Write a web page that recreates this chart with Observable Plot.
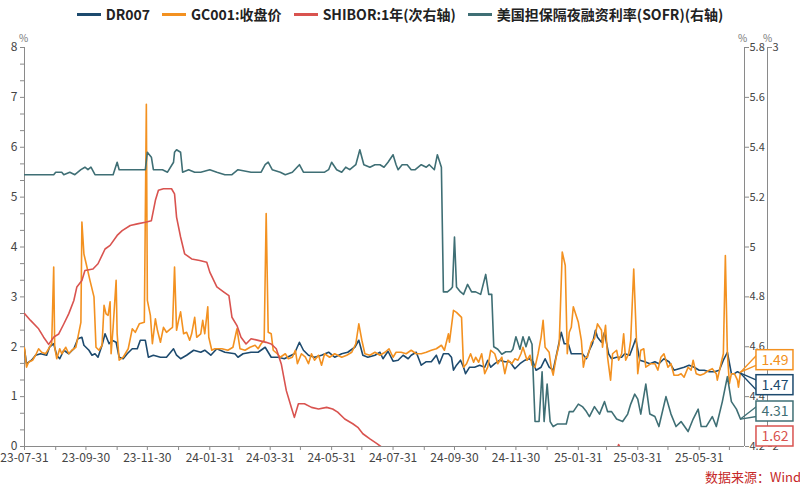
<!DOCTYPE html>
<html><head><meta charset="utf-8">
<script src="https://cdn.jsdelivr.net/npm/d3@7"></script>
<script src="https://cdn.jsdelivr.net/npm/@observablehq/plot@0.6"></script>
<style>
body{margin:0;background:#fff;}
#wrap{position:relative;width:800px;height:485px;font-family:"Noto Sans CJK SC","Open Sans",sans-serif;overflow:hidden;}
#chart{position:absolute;left:0;top:0;}
#legend{position:absolute;top:4px;left:0;width:800px;display:flex;justify-content:center;align-items:center;font-weight:bold;font-size:14px;color:#222;line-height:20px;}
.item{display:flex;align-items:center;margin:0 6px;white-space:nowrap;}
.sw{display:inline-block;width:24px;height:3px;margin-right:5px;}
#src{position:absolute;left:705px;top:469px;font-size:13px;color:#c62828;white-space:nowrap;line-height:16px;}
</style></head>
<body><div id="wrap"><div id="chart"></div><div id="legend"></div><div id="src">数据来源：Wind</div></div>
<script>
const seriesNames = ["DR007", "GC001:收盘价", "SHIBOR:1年(次右轴)", "美国担保隔夜融资利率(SOFR)(右轴)"];
const seriesColors = ["#1d4a6e", "#f39120", "#d9534f", "#3f6f75"];

const dr007 = [["2023-07-31",1.95],["2023-08-02",1.66],["2023-08-07",1.73],["2023-08-11",1.83],["2023-08-16",1.86],["2023-08-22",1.83],["2023-08-25",2.00],["2023-08-29",2.06],["2023-09-01",1.83],["2023-09-04",1.76],["2023-09-08",1.93],["2023-09-13",1.86],["2023-09-18",1.96],["2023-09-22",2.16],["2023-09-26",2.19],["2023-09-28",2.03],["2023-10-03",1.93],["2023-10-06",1.83],["2023-10-09",1.86],["2023-10-12",1.79],["2023-10-16",2.03],["2023-10-19",2.26],["2023-10-23",2.06],["2023-10-26",2.13],["2023-10-30",2.09],["2023-11-02",1.79],["2023-11-06",1.76],["2023-11-10",1.86],["2023-11-15",1.96],["2023-11-20",1.96],["2023-11-23",2.13],["2023-11-28",2.13],["2023-12-01",1.79],["2023-12-06",1.83],["2023-12-13",1.79],["2023-12-19",1.79],["2023-12-26",1.96],["2023-12-29",1.83],["2024-01-02",1.76],["2024-01-08",1.83],["2024-01-15",1.93],["2024-01-22",1.89],["2024-01-26",1.93],["2024-02-01",1.83],["2024-02-07",1.96],["2024-02-15",1.89],["2024-02-25",1.86],["2024-02-28",1.79],["2024-03-04",1.86],["2024-03-12",1.89],["2024-03-19",1.89],["2024-03-26",1.99],["2024-03-29",1.89],["2024-04-01",1.79],["2024-04-08",1.79],["2024-04-14",1.76],["2024-04-21",1.83],["2024-04-24",1.86],["2024-04-29",2.09],["2024-05-03",1.93],["2024-05-08",1.83],["2024-05-14",1.79],["2024-05-21",1.83],["2024-05-28",1.89],["2024-06-03",1.79],["2024-06-10",1.86],["2024-06-16",1.89],["2024-06-23",1.99],["2024-06-27",2.13],["2024-07-01",1.83],["2024-07-06",1.79],["2024-07-13",1.83],["2024-07-18",1.89],["2024-07-21",1.76],["2024-07-26",1.91],["2024-07-31",1.71],["2024-08-05",1.73],["2024-08-10",1.83],["2024-08-15",1.76],["2024-08-18",1.83],["2024-08-23",1.89],["2024-08-28",1.63],["2024-09-02",1.70],["2024-09-07",1.70],["2024-09-12",1.83],["2024-09-15",1.66],["2024-09-19",1.86],["2024-09-24",1.86],["2024-09-27",1.79],["2024-09-29",1.53],["2024-10-02",1.63],["2024-10-06",1.73],["2024-10-09",1.59],["2024-10-11",1.46],["2024-10-15",1.59],["2024-10-20",1.59],["2024-10-25",1.63],["2024-10-30",1.59],["2024-11-02",1.73],["2024-11-05",1.59],["2024-11-09",1.66],["2024-11-14",1.73],["2024-11-19",1.70],["2024-11-24",1.70],["2024-11-29",1.56],["2024-12-04",1.66],["2024-12-09",1.73],["2024-12-13",1.76],["2024-12-17",1.70],["2024-12-20",1.53],["2024-12-25",1.59],["2024-12-29",1.76],["2025-01-02",1.59],["2025-01-06",1.53],["2025-01-11",2.00],["2025-01-14",2.29],["2025-01-17",2.06],["2025-01-21",2.06],["2025-01-24",1.86],["2025-01-29",1.86],["2025-02-04",1.86],["2025-02-08",1.76],["2025-02-11",1.93],["2025-02-14",2.06],["2025-02-17",2.33],["2025-02-19",2.19],["2025-02-23",2.09],["2025-02-26",2.29],["2025-03-02",1.86],["2025-03-05",1.76],["2025-03-10",1.79],["2025-03-15",1.79],["2025-03-18",1.86],["2025-03-23",1.83],["2025-03-26",1.99],["2025-03-29",2.16],["2025-04-02",1.73],["2025-04-07",1.70],["2025-04-12",1.66],["2025-04-17",1.70],["2025-04-21",1.66],["2025-04-26",1.76],["2025-05-01",1.70],["2025-05-06",1.53],["2025-05-11",1.56],["2025-05-16",1.59],["2025-05-21",1.63],["2025-05-26",1.59],["2025-05-31",1.53],["2025-06-05",1.53],["2025-06-10",1.50],["2025-06-15",1.50],["2025-06-20",1.53],["2025-06-24",1.73],["2025-06-28",1.89],["2025-07-02",1.46],["2025-07-05",1.46],["2025-07-08",1.50],["2025-07-11",1.47]];

const gc001 = [["2023-07-31",1.98],["2023-08-02",1.59],["2023-08-04",1.69],["2023-08-08",1.73],["2023-08-11",1.83],["2023-08-14",1.96],["2023-08-17",1.89],["2023-08-21",1.86],["2023-08-24",1.96],["2023-08-27",2.06],["2023-08-29",3.60],["2023-08-30",1.99],["2023-09-01",1.76],["2023-09-04",1.96],["2023-09-06",1.86],["2023-09-10",1.99],["2023-09-13",1.86],["2023-09-16",1.93],["2023-09-20",1.99],["2023-09-23",2.29],["2023-09-25",2.49],["2023-09-26",4.50],["2023-09-28",3.86],["2023-10-01",3.60],["2023-10-04",3.33],["2023-10-08",3.00],["2023-10-10",1.99],["2023-10-13",1.93],["2023-10-16",2.03],["2023-10-18",2.83],["2023-10-20",2.66],["2023-10-22",2.63],["2023-10-24",2.90],["2023-10-25",1.86],["2023-10-27",2.39],["2023-10-30",3.33],["2023-10-31",2.26],["2023-11-02",1.73],["2023-11-06",1.79],["2023-11-11",1.96],["2023-11-15",2.36],["2023-11-18",2.29],["2023-11-22",2.46],["2023-11-27",2.49],["2023-11-29",6.86],["2023-11-30",2.93],["2023-12-03",2.63],["2023-12-05",2.06],["2023-12-08",2.56],["2023-12-10",2.33],["2023-12-13",2.09],["2023-12-16",2.39],["2023-12-19",2.29],["2023-12-23",2.36],["2023-12-25",2.39],["2023-12-27",3.60],["2023-12-29",2.33],["2023-12-31",2.53],["2024-01-02",2.70],["2024-01-05",2.26],["2024-01-08",2.29],["2024-01-11",2.13],["2024-01-13",2.26],["2024-01-16",2.59],["2024-01-18",2.19],["2024-01-22",2.26],["2024-01-24",2.53],["2024-01-26",2.26],["2024-01-29",2.80],["2024-01-30",2.19],["2024-02-02",1.93],["2024-02-05",1.96],["2024-02-12",1.96],["2024-02-18",1.93],["2024-02-23",1.99],["2024-02-27",2.36],["2024-03-01",1.96],["2024-03-06",1.93],["2024-03-11",1.99],["2024-03-16",2.03],["2024-03-19",1.96],["2024-03-22",2.06],["2024-03-25",2.13],["2024-03-27",4.67],["2024-03-29",2.29],["2024-04-01",2.26],["2024-04-03",1.93],["2024-04-07",1.86],["2024-04-10",1.79],["2024-04-15",1.86],["2024-04-18",1.76],["2024-04-22",1.79],["2024-04-25",1.93],["2024-04-27",1.66],["2024-05-01",1.86],["2024-05-05",1.79],["2024-05-08",1.66],["2024-05-11",1.86],["2024-05-14",1.73],["2024-05-18",1.83],["2024-05-21",1.63],["2024-05-24",1.86],["2024-05-29",1.79],["2024-06-03",1.86],["2024-06-10",1.79],["2024-06-15",1.83],["2024-06-20",1.89],["2024-06-24",2.06],["2024-06-27",2.46],["2024-06-30",2.13],["2024-07-03",1.86],["2024-07-08",1.83],["2024-07-13",1.89],["2024-07-18",1.83],["2024-07-23",1.89],["2024-07-27",1.96],["2024-07-31",1.79],["2024-08-03",1.89],["2024-08-08",1.89],["2024-08-13",1.86],["2024-08-18",1.93],["2024-08-23",1.86],["2024-08-28",1.86],["2024-09-02",1.89],["2024-09-07",1.93],["2024-09-12",1.96],["2024-09-17",2.03],["2024-09-20",1.93],["2024-09-24",2.26],["2024-09-25",2.09],["2024-09-29",2.73],["2024-10-02",2.69],["2024-10-07",2.59],["2024-10-09",1.59],["2024-10-12",1.66],["2024-10-16",1.86],["2024-10-19",1.69],["2024-10-21",1.79],["2024-10-24",1.69],["2024-10-27",1.86],["2024-10-30",1.46],["2024-11-02",1.59],["2024-11-05",1.93],["2024-11-09",1.86],["2024-11-12",1.66],["2024-11-16",1.79],["2024-11-19",1.46],["2024-11-22",1.73],["2024-11-26",1.66],["2024-11-29",1.76],["2024-12-02",1.73],["2024-12-05",1.86],["2024-12-07",1.99],["2024-12-11",1.73],["2024-12-14",1.83],["2024-12-16",1.63],["2024-12-19",1.59],["2024-12-22",1.86],["2024-12-25",2.19],["2024-12-27",2.53],["2024-12-29",1.99],["2025-01-02",1.89],["2025-01-04",1.59],["2025-01-06",1.43],["2025-01-09",1.79],["2025-01-12",2.06],["2025-01-15",3.90],["2025-01-18",3.63],["2025-01-20",1.86],["2025-01-22",2.29],["2025-01-24",2.39],["2025-01-26",2.80],["2025-01-31",2.49],["2025-02-03",2.13],["2025-02-05",1.59],["2025-02-07",1.79],["2025-02-09",1.79],["2025-02-13",2.09],["2025-02-16",2.16],["2025-02-19",2.46],["2025-02-23",2.33],["2025-02-24",1.99],["2025-02-27",2.43],["2025-03-01",1.79],["2025-03-04",1.33],["2025-03-06",1.86],["2025-03-10",1.93],["2025-03-12",1.73],["2025-03-15",1.86],["2025-03-17",2.26],["2025-03-19",1.73],["2025-03-22",1.86],["2025-03-24",2.13],["2025-03-27",3.56],["2025-03-31",1.46],["2025-04-03",1.93],["2025-04-06",1.96],["2025-04-08",1.59],["2025-04-13",1.66],["2025-04-17",1.66],["2025-04-20",1.53],["2025-04-23",1.79],["2025-04-26",1.86],["2025-04-30",1.59],["2025-05-03",1.66],["2025-05-06",1.43],["2025-05-10",1.43],["2025-05-13",1.46],["2025-05-16",1.39],["2025-05-20",1.59],["2025-05-23",1.53],["2025-05-25",1.73],["2025-05-28",1.46],["2025-06-01",1.43],["2025-06-05",1.46],["2025-06-10",1.53],["2025-06-13",1.56],["2025-06-17",1.46],["2025-06-18",1.33],["2025-06-22",1.69],["2025-06-24",1.86],["2025-06-26",3.83],["2025-06-28",1.86],["2025-06-30",1.26],["2025-07-02",1.46],["2025-07-05",1.46],["2025-07-08",1.33],["2025-07-09",1.19],["2025-07-11",1.49]];

const shibor1y = [["2023-07-31",2.333],["2023-08-06",2.316],["2023-08-14",2.295],["2023-08-19",2.274],["2023-08-24",2.256],["2023-08-29",2.274],["2023-09-03",2.282],["2023-09-08",2.307],["2023-09-13",2.333],["2023-09-18",2.366],["2023-09-21",2.40],["2023-09-26",2.416],["2023-09-29",2.441],["2023-10-07",2.445],["2023-10-12",2.458],["2023-10-19",2.495],["2023-10-24",2.504],["2023-10-31",2.529],["2023-11-05",2.541],["2023-11-13",2.554],["2023-11-20",2.558],["2023-11-28",2.562],["2023-12-04",2.566],["2023-12-08",2.617],["2023-12-11",2.642],["2023-12-16",2.646],["2023-12-24",2.646],["2023-12-27",2.633],["2023-12-29",2.575],["2024-01-02",2.525],["2024-01-06",2.483],["2024-01-13",2.47],["2024-01-21",2.466],["2024-01-28",2.462],["2024-01-31",2.437],["2024-02-07",2.40],["2024-02-14",2.387],["2024-02-19",2.378],["2024-02-22",2.324],["2024-02-27",2.303],["2024-03-02",2.274],["2024-03-07",2.257],["2024-03-12",2.27],["2024-03-19",2.266],["2024-03-27",2.261],["2024-04-01",2.257],["2024-04-06",2.245],["2024-04-11",2.207],["2024-04-16",2.14],["2024-04-21",2.098],["2024-04-24",2.073],["2024-04-28",2.107],["2024-05-04",2.107],["2024-05-11",2.098],["2024-05-18",2.094],["2024-05-26",2.098],["2024-06-01",2.094],["2024-06-06",2.086],["2024-06-13",2.069],["2024-06-21",2.057],["2024-06-26",2.048],["2024-07-01",2.032],["2024-07-08",2.019],["2024-07-15",2.007],["2024-07-20",1.998],["2024-08-15",1.96],["2024-09-15",1.90],["2024-10-15",1.88],["2024-11-15",1.83],["2024-12-15",1.72],["2025-01-10",1.62],["2025-02-10",1.75],["2025-03-05",1.95],["2025-03-12",2.005],["2025-03-19",1.97],["2025-04-10",1.85],["2025-05-10",1.76],["2025-06-10",1.68],["2025-07-11",1.62]];

const sofr = [["2023-07-31",5.29],["2023-08-29",5.29],["2023-08-31",5.30],["2023-09-06",5.30],["2023-09-08",5.29],["2023-09-14",5.30],["2023-09-19",5.29],["2023-09-25",5.31],["2023-09-29",5.32],["2023-10-02",5.31],["2023-10-05",5.32],["2023-10-09",5.29],["2023-10-27",5.29],["2023-10-31",5.34],["2023-11-02",5.31],["2023-11-28",5.31],["2023-11-30",5.38],["2023-12-04",5.36],["2023-12-06",5.31],["2023-12-15",5.31],["2023-12-20",5.30],["2023-12-26",5.34],["2023-12-27",5.38],["2023-12-29",5.39],["2024-01-02",5.38],["2024-01-04",5.30],["2024-01-10",5.31],["2024-01-16",5.30],["2024-01-22",5.30],["2024-01-31",5.31],["2024-02-07",5.30],["2024-02-15",5.29],["2024-02-22",5.29],["2024-02-28",5.31],["2024-03-12",5.30],["2024-03-22",5.30],["2024-03-26",5.33],["2024-03-29",5.34],["2024-04-02",5.31],["2024-04-10",5.30],["2024-04-15",5.29],["2024-04-22",5.30],["2024-04-29",5.33],["2024-05-03",5.30],["2024-05-24",5.30],["2024-05-28",5.31],["2024-05-31",5.34],["2024-06-05",5.31],["2024-06-10",5.30],["2024-06-14",5.32],["2024-06-18",5.31],["2024-06-24",5.33],["2024-06-28",5.39],["2024-07-02",5.33],["2024-07-08",5.32],["2024-07-13",5.33],["2024-07-18",5.33],["2024-07-22",5.32],["2024-07-26",5.34],["2024-07-31",5.37],["2024-08-03",5.33],["2024-08-05",5.31],["2024-08-09",5.33],["2024-08-14",5.33],["2024-08-18",5.31],["2024-08-22",5.31],["2024-08-25",5.32],["2024-08-28",5.33],["2024-09-02",5.32],["2024-09-05",5.33],["2024-09-10",5.31],["2024-09-13",5.37],["2024-09-17",5.32],["2024-09-19",4.82],["2024-09-23",4.82],["2024-09-26",4.83],["2024-09-28",4.84],["2024-09-30",5.04],["2024-10-02",4.84],["2024-10-06",4.82],["2024-10-09",4.81],["2024-10-13",4.85],["2024-10-17",4.82],["2024-10-21",4.82],["2024-10-26",4.81],["2024-10-31",4.89],["2024-11-03",4.81],["2024-11-06",4.81],["2024-11-08",4.60],["2024-11-12",4.59],["2024-11-16",4.57],["2024-11-20",4.58],["2024-11-25",4.58],["2024-11-27",4.59],["2024-11-30",4.64],["2024-12-04",4.59],["2024-12-07",4.64],["2024-12-10",4.60],["2024-12-13",4.64],["2024-12-16",4.61],["2024-12-19",4.30],["2024-12-23",4.30],["2024-12-26",4.50],["2024-12-28",4.30],["2024-12-31",4.45],["2025-01-03",4.30],["2025-01-06",4.28],["2025-01-10",4.29],["2025-01-15",4.29],["2025-01-19",4.29],["2025-01-22",4.34],["2025-01-26",4.34],["2025-01-31",4.37],["2025-02-04",4.36],["2025-02-08",4.34],["2025-02-11",4.32],["2025-02-16",4.36],["2025-02-21",4.33],["2025-02-26",4.38],["2025-03-01",4.34],["2025-03-05",4.34],["2025-03-10",4.31],["2025-03-16",4.30],["2025-03-21",4.33],["2025-03-24",4.37],["2025-03-28",4.41],["2025-03-31",4.39],["2025-04-03",4.33],["2025-04-08",4.45],["2025-04-12",4.33],["2025-04-17",4.32],["2025-04-21",4.28],["2025-04-28",4.40],["2025-05-03",4.33],["2025-05-08",4.28],["2025-05-13",4.30],["2025-05-20",4.26],["2025-05-25",4.31],["2025-05-30",4.35],["2025-06-02",4.28],["2025-06-07",4.28],["2025-06-13",4.32],["2025-06-17",4.28],["2025-06-23",4.38],["2025-06-28",4.48],["2025-07-02",4.38],["2025-07-07",4.35],["2025-07-11",4.31]];

const xDomain = ["2023-07-31", "2025-07-15"];
const xTicks = ["2023-07-31","2023-08-31","2023-09-30","2023-10-31","2023-11-30","2023-12-31","2024-01-31","2024-02-29","2024-03-31","2024-04-30","2024-05-31","2024-06-30","2024-07-31","2024-08-31","2024-09-30","2024-10-31","2024-11-30","2024-12-31","2025-01-31","2025-02-28","2025-03-31","2025-04-30","2025-05-31","2025-06-30"];
const xTickLabels = ["2023-07-31","2023-09-30","2023-11-30","2024-01-31","2024-03-31","2024-05-31","2024-07-31","2024-09-30","2024-11-30","2025-01-31","2025-03-31","2025-05-31"];
const leftDomain = [0, 8];
const sofrDomain = [4.2, 5.8];
const sofrTicks = [4.2, 4.4, 4.6, 4.8, 5.0, 5.2, 5.4, 5.6, 5.8];
const shiborDomain = [2, 3];
const shiborTicks = [2, 3];

// map right-axis values into left-axis units
const fromSofr = v => (v - sofrDomain[0]) / (sofrDomain[1] - sofrDomain[0]) * (leftDomain[1] - leftDomain[0]);
const fromShibor = v => (v - shiborDomain[0]) / (shiborDomain[1] - shiborDomain[0]) * (leftDomain[1] - leftDomain[0]);
const toSofr = u => sofrDomain[0] + u / 8 * (sofrDomain[1] - sofrDomain[0]);
const toShibor = u => shiborDomain[0] + u / 8 * (shiborDomain[1] - shiborDomain[0]);

const rows = (arr, f) => arr.map(([d, v]) => ({date: new Date(d), value: v, y: f(v)}));
const series = [
  {data: rows(dr007, v => v), color: seriesColors[0]},
  {data: rows(gc001, v => v), color: seriesColors[1]},
  {data: rows(shibor1y, fromShibor), color: seriesColors[2]},
  {data: rows(sofr, fromSofr), color: seriesColors[3]}
];

// end-value labels, dodged vertically
const H = 399; // inner plot height
const unitPerPx = 8 / H;
const gap = 25 * unitPerPx, minY = 10 * unitPerPx;
const labels = series.map(s => {
  const last = s.data[s.data.length - 1];
  return {date: last.date, value: last.value, y: last.y, ly: Math.max(last.y, minY), color: s.color};
}).sort((a, b) => b.ly - a.ly);
for (let it = 0; it < 300; it++) {
  for (let i = 0; i < labels.length - 1; i++) {
    const d = labels[i].ly - labels[i + 1].ly;
    if (d < gap) { const s = (gap - d) / 2; labels[i].ly += s; labels[i + 1].ly -= s; }
  }
  labels.forEach(l => { if (l.ly < minY) l.ly = minY; });
}

const fmtX = d3.utcFormat("%y-%m-%d");
const labeled = new Set(xTickLabels.map(d => +new Date(d)));
const axisGray = "#8a8a8a", textGray = "#444";
const xEnd = new Date(xDomain[1]), xStart = new Date(xDomain[0]);

const labelMarks = [];
labels.forEach(l => {
  const inside = l.y >= 0 && l.y <= 8;
  if (inside) {
    const tip = d3.utcDay.offset(l.date, 16);
    labelMarks.push(Plot.link([l], {x1: "date", y1: "y", x2: () => tip, y2: d => d.ly + 5 * unitPerPx, stroke: l.color, strokeWidth: 1.3}));
    labelMarks.push(Plot.link([l], {x1: "date", y1: "y", x2: () => tip, y2: d => d.ly - 5 * unitPerPx, stroke: l.color, strokeWidth: 1.3}));
  }
  labelMarks.push(Plot.rect([l], {x1: "date", x2: "date", y1: "ly", y2: "ly", insetLeft: -18.5, insetRight: -18.5, insetTop: -10, insetBottom: -10, dx: 34.5, fill: "white", stroke: l.color, strokeWidth: 1.5}));
  labelMarks.push(Plot.text([l], {x: "date", y: "ly", text: d => d.value.toFixed(2), dx: 34.5, fill: l.color, fontSize: 14, textAnchor: "middle"}));
});

const chart = Plot.plot({
  width: 800, height: 485,
  marginLeft: 24, marginRight: 56, marginTop: 47, marginBottom: 39,
  style: {fontFamily: "'Noto Sans CJK SC','Open Sans',sans-serif", fontSize: "12px", color: textGray, background: "transparent", overflow: "visible"},
  x: {type: "utc", domain: [xStart, xEnd]},
  y: {domain: leftDomain},
  marks: [
    Plot.axisY({ticks: d3.range(25).map(i => i / 3), tickFormat: d => Math.abs(d - Math.round(d)) < 1e-6 ? String(Math.round(d)) : "", tickSize: 4, tickPadding: 3, stroke: axisGray, fill: textGray, label: null}),
    Plot.axisY({anchor: "right", ticks: sofrTicks.map(fromSofr), tickFormat: u => d3.format("~g")(+toSofr(u).toFixed(1)), tickSize: 4, tickPadding: 1, fontSize: 11, stroke: axisGray, fill: textGray, label: null}),
    Plot.axisY({anchor: "right", ticks: shiborTicks.map(fromShibor), tickFormat: u => d3.format("~g")(+toShibor(u).toFixed(1)), tickSize: 4, tickPadding: 1, fontSize: 11, dx: 23, stroke: axisGray, fill: textGray, label: null}),
    Plot.axisX({ticks: xTicks.map(d => new Date(d)), tickFormat: d => labeled.has(+d) ? fmtX(d) : "", tickSize: 4, tickPadding: 3, stroke: axisGray, fill: textGray, label: null}),
    Plot.ruleY([0], {stroke: axisGray}),
    Plot.ruleX([xStart], {stroke: axisGray}),
    Plot.ruleX([xEnd], {stroke: axisGray}),
    Plot.ruleX([xEnd], {stroke: axisGray, dx: 23}),
    Plot.text(["%"], {frameAnchor: "top-left", textAnchor: "middle", dx: -1, dy: -13, fontSize: 10, fill: "#777"}),
    Plot.text(["%"], {frameAnchor: "top-right", textAnchor: "middle", dx: -2, dy: -13, fontSize: 10, fill: "#777"}),
    Plot.text(["%"], {frameAnchor: "top-right", textAnchor: "middle", dx: 23, dy: -13, fontSize: 10, fill: "#777"}),
    ...series.map(s => Plot.line(s.data, {x: "date", y: "y", stroke: s.color, strokeWidth: 1.6, clip: true})),
    ...labelMarks
  ]
});
document.getElementById("chart").appendChild(chart);

const leg = document.getElementById("legend");
seriesNames.forEach((n, i) => {
  const it = document.createElement("span");
  it.className = "item";
  it.innerHTML = `<span class="sw" style="background:${seriesColors[i]}"></span>${n}`;
  leg.appendChild(it);
});
</script></body></html>
